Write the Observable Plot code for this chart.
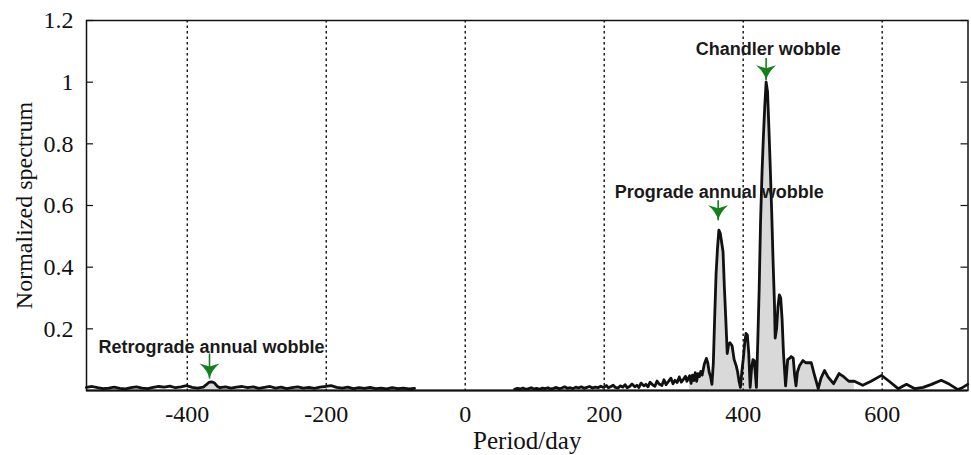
<!DOCTYPE html>
<html><head><meta charset="utf-8">
<script src="https://cdn.jsdelivr.net/npm/d3@7"></script>
<script src="https://cdn.jsdelivr.net/npm/@observablehq/plot@0.6"></script>
<style>body{margin:0;background:#fff}</style>
</head><body><div id="chart"></div>
<script>
// Negative periods (retrograde side)
const leftPeriods = [-545,-537,-529,-521,-513,-505,-497,-489,-481,-473,-465,-457,-449,-441,-433,-425,-417,-409,-401,-393,-385,-377,-373,-369,-365,-361,-357,-353,-345,-337,-329,-321,-313,-305,-297,-289,-281,-273,-265,-257,-249,-241,-233,-225,-217,-209,-201,-193,-185,-177,-169,-161,-153,-145,-137,-129,-121,-113,-105,-97,-89,-81,-73];
const leftValues = [0.010,0.013,0.009,0.006,0.008,0.011,0.007,0.005,0.009,0.012,0.008,0.006,0.010,0.013,0.011,0.014,0.009,0.012,0.016,0.010,0.008,0.011,0.018,0.026,0.028,0.025,0.014,0.009,0.012,0.008,0.011,0.013,0.009,0.012,0.007,0.010,0.013,0.008,0.011,0.006,0.009,0.012,0.008,0.010,0.007,0.011,0.013,0.016,0.010,0.008,0.011,0.006,0.009,0.007,0.010,0.006,0.008,0.005,0.009,0.006,0.008,0.005,0.007];

// Positive periods (prograde side)
const rightPeriods = [71,75,79,83,87,91,95,99,103,107,111,115,119,123,127,131,135,139,143,147,151,155,159,163,167,171,175,179,183,187,191,195,199,203,206,209,213,216,220,223,227,230,233,237,240,244,247,250,253,257,260,263,266,270,273,276,279,283,286,289,292,296,299,302,305,308,311,314,317,319,
323,325,327,329,331,333,335,337,339,341,344,347,349,351,353,355,357,359,361,363,365,367,369,371,373,375,377,379,381,384,387,390,392,394,396,398,400,402,404,406,408,410,412,414,416,418,419,421,423,425,427,429,431,433,435,437,439,441,443,445,446,448,450,452,454,456,458,461,464,467,469,472,474,476,478,481,486,490,498,502,508,512,517,522,530,538,545,552,560,572,584,599,610,623,635,647,659,671,685,697,709,716,723];
const rightValues = [0.004,0.007,0.005,0.008,0.004,0.006,0.009,0.005,0.007,0.004,0.008,0.006,0.009,0.005,0.007,0.010,0.006,0.008,0.012,0.007,0.009,0.006,0.011,0.008,0.012,0.007,0.010,0.013,0.008,0.011,0.009,0.014,0.010,0.016,0.009,0.012,0.017,0.010,0.008,0.015,0.011,0.019,0.009,0.014,0.021,0.012,0.017,0.010,0.024,0.015,0.020,0.012,0.027,0.018,0.014,0.031,0.021,0.016,0.035,0.019,0.028,0.040,0.022,0.033,0.026,0.044,0.027,0.036,0.046,0.030,
0.048,0.023,0.050,0.032,0.058,0.030,0.055,0.045,0.062,0.050,0.085,0.104,0.090,0.060,0.045,0.020,0.088,0.240,0.380,0.460,0.520,0.510,0.480,0.450,0.330,0.230,0.120,0.150,0.155,0.145,0.100,0.080,0.060,0.030,0.010,0.060,0.100,0.150,0.185,0.180,0.120,0.010,0.070,0.100,0.097,0.040,0.010,0.160,0.330,0.550,0.700,0.820,0.920,1.000,0.970,0.850,0.720,0.580,0.420,0.280,0.170,0.200,0.270,0.310,0.300,0.230,0.120,0.015,0.100,0.105,0.110,0.105,0.050,0.015,0.060,0.080,0.097,0.090,0.090,0.055,0.006,0.040,0.065,0.044,0.022,0.055,0.044,0.030,0.030,0.017,0.030,0.049,0.030,0.006,0.020,0.006,0.010,0.020,0.033,0.020,0.003,0.010,0.020];

const xTicks = [-400,-200,0,200,400,600];
const yTicks = [0.2,0.4,0.6,0.8,1,1.2];
const xLabel = "Period/day";
const yLabel = "Normalized spectrum";

const annotationTexts = ["Retrograde annual wobble","Prograde annual wobble","Chandler wobble"];
const annotationPeriods = [-365, 365.5, 436];
const annotationValues = [0.14, 0.643, 1.107];
const arrowPeriods = [-368, 364, 433];
const arrowTops = [0.12, 0.617, 1.078];
const arrowTips = [0.039, 0.552, 1.006];

const left = leftPeriods.map((p,i)=>({p, v:leftValues[i], s:"L"}));
const right = rightPeriods.map((p,i)=>({p, v:rightValues[i], s:"R"}));
const spectrum = left.concat(right);
const filledR = right.filter(d => d.p >= 321 && d.p <= 566);
const filledL = left.filter(d => d.p >= -377 && d.p <= -353);
const notes = annotationTexts.map((t,i)=>({t, p:annotationPeriods[i], v:annotationValues[i]}));
const arrows = arrowPeriods.map((p,i)=>({p, top:arrowTops[i], tip:arrowTips[i]}));

const W = 971, H = 455, mL = 86, mR = 3.5, mT = 20, mB = 65;
const innerW = W - mL - mR;
const green = "#13801a";

const arrowHead = {
  draw(context, size) {
    const r = Math.sqrt(size / Math.PI);
    const w = r, h = r * 1.5;
    context.moveTo(0, 0);
    context.quadraticCurveTo(-w * 0.2, -h * 0.55, -w, -h);
    context.lineTo(0, -h * 0.8);
    context.lineTo(w, -h);
    context.quadraticCurveTo(w * 0.2, -h * 0.55, 0, 0);
    context.closePath();
  }
};

const serif = "'Liberation Serif','Times New Roman',Times,serif";
const sans = "'Liberation Sans',Arial,Helvetica,sans-serif";

const chart = Plot.plot({
  width: W, height: H,
  marginLeft: mL, marginRight: mR, marginTop: mT, marginBottom: mB,
  style: {fontFamily: serif, background: "#fff", color: "#111"},
  x: {domain: [-545, 723.5]},
  y: {domain: [0, 1.2]},
  marks: [
    Plot.areaY(filledR, {x: "p", y: "v", fill: "#d9d9d9"}),
    Plot.areaY(filledL, {x: "p", y: "v", fill: "#d9d9d9"}),
    Plot.ruleX(xTicks, {stroke: "#111", strokeWidth: 1.4, strokeDasharray: "2.5,3"}),
    Plot.line(spectrum, {x: "p", y: "v", z: "s", stroke: "#111", strokeWidth: 2.8, strokeLinejoin: "round"}),
    Plot.ruleY([0], {stroke: "#111", strokeWidth: 2.2}),
    Plot.frame({stroke: "#111", strokeWidth: 1.5}),
    Plot.tickY(yTicks, {y: d => d, insetRight: innerW - 7, stroke: "#111", strokeWidth: 1.2}),
    Plot.tickY(yTicks, {y: d => d, insetLeft: innerW - 7, stroke: "#111", strokeWidth: 1.2}),
    Plot.axisY(yTicks, {tickSize: 0, tickPadding: 13, fontSize: 24, label: null, tickFormat: d => String(d)}),
    Plot.axisX(xTicks, {tickSize: 0, tickPadding: 14, fontSize: 24, label: null, tickFormat: d => String(d)}),
    Plot.text([yLabel], {frameAnchor: "left", dx: -62, rotate: -90, textAnchor: "middle", lineAnchor: "middle", fontSize: 24, fill: "#111"}),
    Plot.text([xLabel], {frameAnchor: "bottom", dy: 50, textAnchor: "middle", lineAnchor: "middle", fontSize: 25, fill: "#111"}),
    Plot.link(arrows, {x1: "p", x2: "p", y1: "top", y2: "tip", stroke: green, strokeWidth: 1.6}),
    Plot.dot(arrows, {x: "p", y: "tip", symbol: arrowHead, r: 10, fill: green, stroke: "none"}),
    Plot.text(notes, {x: "p", y: "v", text: "t", fontFamily: sans, fontWeight: "bold", fontSize: 18, fill: "#1a1a1a"})
  ]
});
document.getElementById("chart").appendChild(chart);
</script>
</body></html>
